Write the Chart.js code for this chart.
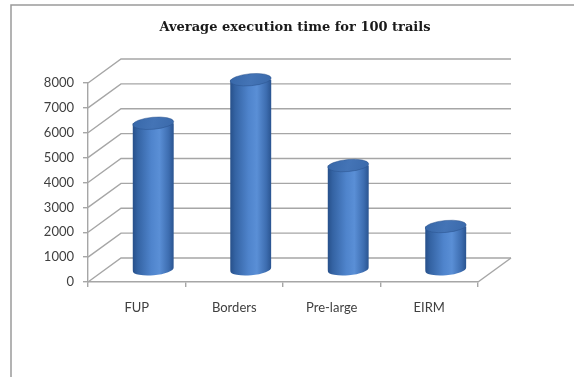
<!DOCTYPE html>
<html>
<head>
<meta charset="utf-8">
<script src="https://cdn.jsdelivr.net/npm/chart.js@4/dist/chart.umd.min.js"></script>
<style>
  html, body { margin: 0; padding: 0; background: #ffffff; }
  canvas { display: block; }
</style>
</head>
<body>
<canvas id="chart" width="574" height="377"></canvas>
<script>
// Average execution time (ms) per algorithm over 100 trials
const categories = ['FUP', 'Borders', 'Pre-large', 'EIRM'];
const execTimes = [5900, 7650, 4200, 1750];
const yTickValues = [0, 1000, 2000, 3000, 4000, 5000, 6000, 7000, 8000];
const chartTitle = 'Average execution time for 100 trails';

// Oblique projection of the box depth (back wall offset)
const DEPTH_X = 33;
const DEPTH_Y = -24;
const GRID_COLOR = '#a6a6a6';
const LABEL_COLOR = '#404040';

// Draws the back wall, side wall and floor lines, then the cylinders
const boxAndCylinders = {
  id: 'boxAndCylinders',
  beforeDatasetsDraw(chart) {
    const ctx = chart.ctx;
    const xs = chart.scales.x;
    const ys = chart.scales.y;
    const L = xs.left, R = xs.right;
    ctx.save();
    ctx.strokeStyle = GRID_COLOR;
    ctx.lineWidth = 1.4;
    yTickValues.forEach(v => {
      const py = ys.getPixelForValue(v);
      ctx.beginPath();
      ctx.moveTo(L, py);
      ctx.lineTo(L + DEPTH_X, py + DEPTH_Y);
      ctx.lineTo(R + DEPTH_X, py + DEPTH_Y);
      ctx.stroke();
    });
    // floor, right edge
    const p0 = ys.getPixelForValue(0);
    ctx.beginPath();
    ctx.moveTo(R, p0);
    ctx.lineTo(R + DEPTH_X, p0 + DEPTH_Y);
    ctx.stroke();

    // cylinders at mid depth
    const meta = chart.getDatasetMeta(0);
    const tilt = -0.09;
    meta.data.forEach(bar => {
      const p = bar.getProps(['x', 'y', 'base', 'width'], true);
      const cx = p.x + DEPTH_X / 2;
      const top = p.y + DEPTH_Y / 2;
      const bot = p.base + DEPTH_Y / 2;
      const rx = p.width / 2;
      const ry = 6;

      const body = ctx.createLinearGradient(cx - rx, 0, cx + rx, 0);
      body.addColorStop(0, '#27508a');
      body.addColorStop(0.12, '#3463a3');
      body.addColorStop(0.45, '#4f84cc');
      body.addColorStop(0.65, '#5a8fd6');
      body.addColorStop(0.88, '#3d6db0');
      body.addColorStop(1, '#2a5490');
      ctx.beginPath();
      ctx.moveTo(cx - rx, top);
      ctx.lineTo(cx - rx, bot);
      ctx.ellipse(cx, bot, rx, ry, tilt, Math.PI, 0, true);
      ctx.lineTo(cx + rx, top);
      ctx.closePath();
      ctx.fillStyle = body;
      ctx.fill();

      const cap = ctx.createLinearGradient(cx - rx, top - ry, cx + rx, top + ry);
      cap.addColorStop(0, '#3767a8');
      cap.addColorStop(0.5, '#4474b6');
      cap.addColorStop(1, '#3a69aa');
      ctx.beginPath();
      ctx.ellipse(cx, top, rx, ry, tilt, 0, Math.PI * 2);
      ctx.fillStyle = cap;
      ctx.fill();
      ctx.strokeStyle = 'rgba(40,80,140,0.6)';
      ctx.lineWidth = 0.8;
      ctx.stroke();
    });
    ctx.restore();
  }
};

// Title text and the outer frame lines
const titleAndFrame = {
  id: 'titleAndFrame',
  afterDraw(chart) {
    const ctx = chart.ctx;
    ctx.save();
    ctx.strokeStyle = '#9a9a9a';
    ctx.lineWidth = 1.5;
    ctx.beginPath();
    ctx.moveTo(11, chart.height);
    ctx.lineTo(11, 5);
    ctx.lineTo(chart.width, 5);
    ctx.stroke();
    ctx.fillStyle = '#1a1a1a';
    ctx.font = 'bold 13px "DejaVu Serif"';
    ctx.textAlign = 'center';
    ctx.textBaseline = 'middle';
    ctx.fillText(chartTitle, 295, 28);
    ctx.restore();
  }
};

new Chart(document.getElementById('chart'), {
  type: 'bar',
  data: {
    labels: categories,
    datasets: [{
      label: 'Execution time',
      data: execTimes,
      backgroundColor: 'rgba(0,0,0,0)',
      borderWidth: 0,
      categoryPercentage: 1.0,
      barPercentage: 0.42
    }]
  },
  options: {
    responsive: false,
    animation: false,
    events: [],
    layout: { padding: { top: 83, right: 96, left: 0, bottom: 0 } },
    plugins: {
      legend: { display: false },
      title: { display: false },
      tooltip: { enabled: false }
    },
    scales: {
      x: {
        afterFit(scale) { scale.height = 95; },
        grid: { drawOnChartArea: false, offset: true, tickLength: 5, color: GRID_COLOR, lineWidth: 1.4 },
        border: { display: true, color: GRID_COLOR, width: 1.4 },
        ticks: { color: LABEL_COLOR, padding: 13, font: { family: 'Lato', size: 13 } }
      },
      y: {
        min: 0,
        max: 8000,
        afterFit(scale) { scale.width = 88; },
        afterBuildTicks(scale) { scale.ticks = yTickValues.map(v => ({ value: v })); },
        grid: { drawOnChartArea: false, tickLength: 5, color: GRID_COLOR, lineWidth: 1.4 },
        border: { display: true, color: GRID_COLOR, width: 1.4 },
        ticks: {
          color: LABEL_COLOR,
          padding: 9,
          font: { family: 'Lato', size: 13 },
          callback: v => String(v)
        }
      }
    }
  },
  plugins: [boxAndCylinders, titleAndFrame]
});
</script>
</body>
</html>
